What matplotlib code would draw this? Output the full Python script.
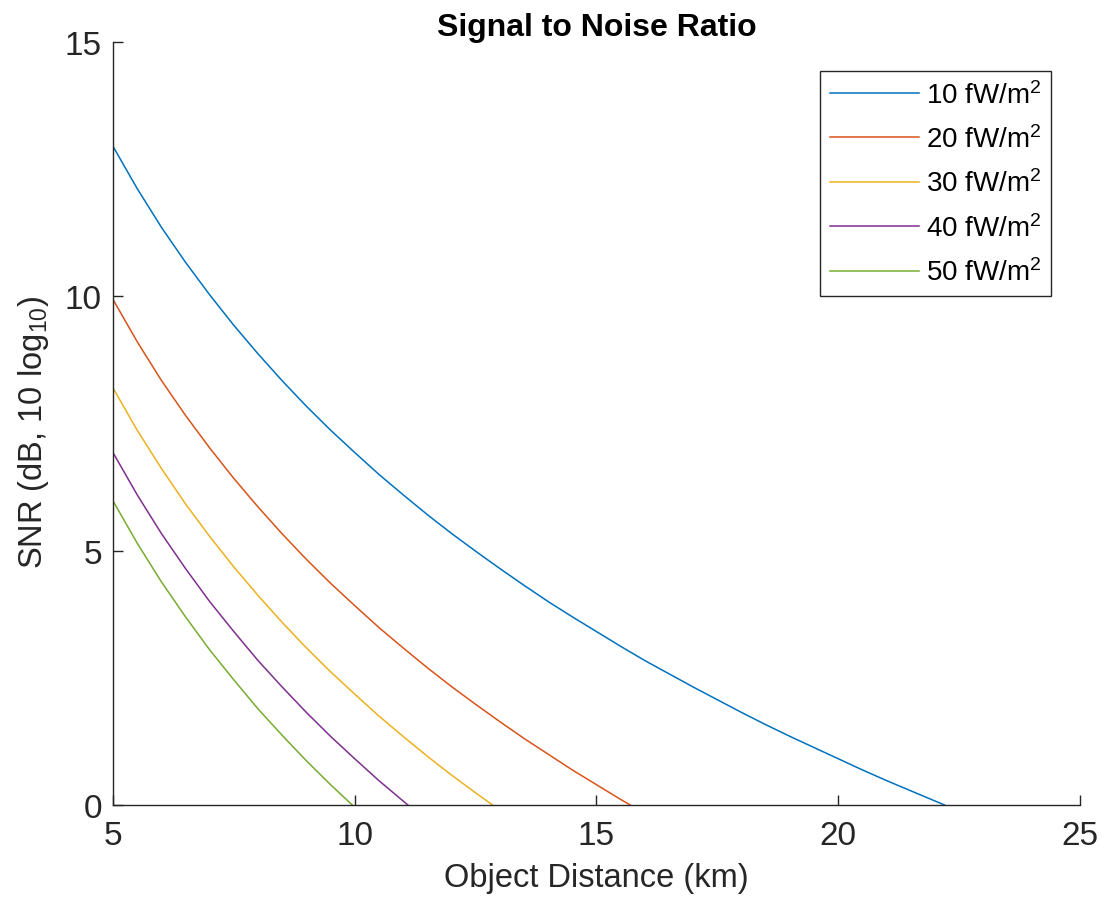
import matplotlib
matplotlib.use("Agg")
import matplotlib.pyplot as plt

plt.rcParams['font.family'] = ['Liberation Sans', 'DejaVu Sans']
plt.rcParams['mathtext.fontset'] = 'custom'
plt.rcParams['mathtext.rm'] = 'Liberation Sans'
plt.rcParams['mathtext.it'] = 'Liberation Sans'

# values
d_10 = [5, 5.5, 6, 6.5, 7, 7.5, 8, 8.5, 9, 9.5, 10, 10.5, 11, 11.5, 12, 12.5, 13, 13.5,
        14, 14.5, 15, 15.5, 16, 16.5, 17, 17.5, 18, 18.5, 19, 19.5, 20, 20.5, 21, 21.5, 22, 22.2]
snr_10 = [12.95, 12.12, 11.36, 10.67, 10.03, 9.43, 8.87, 8.34, 7.84, 7.37, 6.93, 6.50, 6.10,
          5.71, 5.34, 4.99, 4.65, 4.32, 4.00, 3.70, 3.41, 3.12, 2.84, 2.58, 2.32, 2.07, 1.82,
          1.58, 1.35, 1.13, 0.91, 0.69, 0.48, 0.28, 0.08, 0.0]

d_20 = [5, 5.5, 6, 6.5, 7, 7.5, 8, 8.5, 9, 9.5, 10, 10.5, 11, 11.5, 12, 12.5, 13, 13.5,
        14, 14.5, 15, 15.5, 15.7]
snr_20 = [9.94, 9.11, 8.35, 7.66, 7.02, 6.42, 5.86, 5.33, 4.83, 4.36, 3.92, 3.49, 3.09,
          2.70, 2.33, 1.98, 1.64, 1.31, 1.00, 0.69, 0.40, 0.11, 0.0]

d_30 = [5, 5.5, 6, 6.5, 7, 7.5, 8, 8.5, 9, 9.5, 10, 10.5, 11, 11.5, 12, 12.5, 12.85]
snr_30 = [8.20, 7.37, 6.62, 5.92, 5.28, 4.68, 4.12, 3.59, 3.09, 2.62, 2.18, 1.75, 1.35,
          0.96, 0.59, 0.24, 0.0]

d_40 = [5, 5.5, 6, 6.5, 7, 7.5, 8, 8.5, 9, 9.5, 10, 10.5, 11, 11.1]
snr_40 = [6.93, 6.10, 5.34, 4.65, 4.00, 3.41, 2.84, 2.32, 1.82, 1.35, 0.91, 0.48, 0.08, 0.0]

d_50 = [5, 5.5, 6, 6.5, 7, 7.5, 8, 8.5, 9, 9.5, 9.95]
snr_50 = [5.98, 5.15, 4.39, 3.70, 3.05, 2.46, 1.89, 1.37, 0.87, 0.40, 0.0]

labels = [r'10 fW/m$^2$', r'20 fW/m$^2$', r'30 fW/m$^2$', r'40 fW/m$^2$', r'50 fW/m$^2$']
colors = ['#0072BD', '#D95319', '#EDB120', '#7E2F8E', '#77AC30']

fig = plt.figure(figsize=(11.02, 9.03), dpi=100)
ax = fig.add_axes([0.1025, 0.1074, 0.8775, 0.845])

series = [(d_10, snr_10), (d_20, snr_20), (d_30, snr_30), (d_40, snr_40), (d_50, snr_50)]
for (d, s), lab, c in zip(series, labels, colors):
    ax.plot(d, s, color=c, linewidth=1.1, label=lab)

ax.set_xlim(5, 25)
ax.set_ylim(0, 15)
ax.set_xticks([5, 10, 15, 20, 25])
ax.set_yticks([0, 5, 10, 15])

dark = '#262626'
for side in ['top', 'right']:
    ax.spines[side].set_visible(False)
for side in ['left', 'bottom']:
    ax.spines[side].set_color(dark)
    ax.spines[side].set_linewidth(1.0)
ax.tick_params(direction='in', length=7, width=1.0, colors=dark, labelsize=24, pad=8)
ax.tick_params(axis='x', pad=11)

ax.set_xlabel('Object Distance (km)', fontsize=23.5, color=dark, labelpad=8)
ax.set_ylabel(r'SNR (dB, 10 log$_{10}$)', fontsize=23.5, color=dark, labelpad=8)
ax.yaxis.set_label_coords(-0.064, 0.49)
ax.set_title('Signal to Noise Ratio', fontsize=23, fontweight='bold', pad=3)

leg = ax.legend(loc='upper right', bbox_to_anchor=(0.970, 0.962), fontsize=20,
                handlelength=3.2, fancybox=False, framealpha=1, borderaxespad=0,
                labelspacing=0.6, handletextpad=0.25, borderpad=0.35)
leg.get_frame().set_edgecolor(dark)
leg.get_frame().set_linewidth(1.0)

fig.savefig('out.png', dpi=100)
